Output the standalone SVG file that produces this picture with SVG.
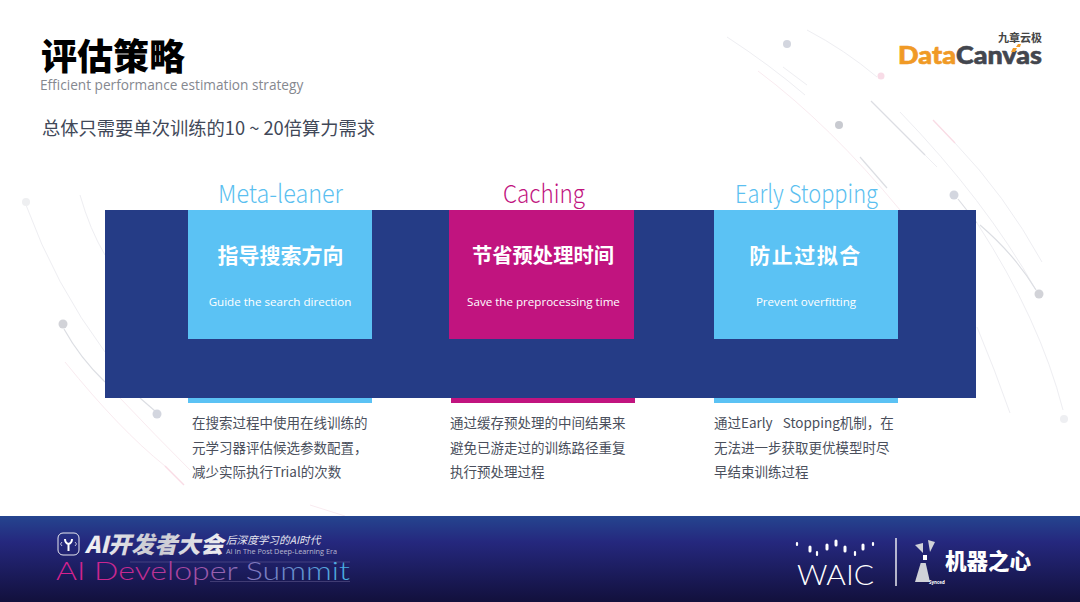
<svg xmlns="http://www.w3.org/2000/svg" width="1080" height="602" viewBox="0 0 1080 602">
<style>
.s{font-family:"Open Sans","Noto Sans","Noto Sans CJK SC",sans-serif}
.c{font-family:"Noto Sans CJK SC","Noto Sans",sans-serif}
.h{font-size:25px;text-anchor:middle;font-family:"Noto Sans CJK SC","Noto Sans",sans-serif;font-weight:300}
.t{font-weight:700;fill:#fff;text-anchor:middle;font-family:"Noto Sans CJK SC",sans-serif}
.e{font-size:11.6px;fill:#fff;text-anchor:middle;font-family:"Open Sans","Noto Sans",sans-serif}
.d{font-size:13.5px;fill:#4a4f5c;white-space:pre;font-family:"Noto Sans CJK SC","Noto Sans",sans-serif}
.g{stroke:#eeeef2;fill:none;stroke-width:1}
.k{stroke:#dcdee3;fill:none;stroke-width:1.2}
.p{stroke:#f9ebf0;fill:none;stroke-width:1}
.q{stroke:#f9dce5;fill:none;stroke-width:1.400}
.n{fill:#d3d6df}
.b{fill:#5bc2f4}
.m{fill:#c1147f}
</style>
<defs>
<linearGradient id="band" x1="0" y1="0" x2="0" y2="1"><stop offset="0" stop-color="#25458f"/><stop offset=".3" stop-color="#25287e"/><stop offset="1" stop-color="#12103c"/></linearGradient>
<linearGradient id="sum" x1="0" y1="0" x2="1" y2="0"><stop offset="0" stop-color="#d8208e"/><stop offset=".3" stop-color="#c02c90"/><stop offset=".62" stop-color="#8a70b8"/><stop offset="1" stop-color="#45b4e6"/></linearGradient>
<linearGradient id="met" x1="0" y1="0" x2="1" y2="0"><stop offset="0" stop-color="#f4f4f6"/><stop offset=".5" stop-color="#c8c8d0"/><stop offset="1" stop-color="#f0f0f4"/></linearGradient>
</defs>
<rect width="1080" height="602" fill="#fff"/>
<g id="decor">
<path class="g" d="M727 37Q770 65 805 95M783 67L807 85M807 30Q845 50 877 77"/>
<path class="p" d="M758 71Q830 125 900 210"/>
<path class="k" d="M871 101Q900 130 925 155"/>
<path class="g" d="M925 155L937 167"/>
<path class="k" d="M860 157L887 188"/>
<path class="g" d="M900 112Q985 200 1036 290"/>
<path class="k" d="M980 225Q1015 255 1036 290"/>
<path class="q" d="M933 120L955 143"/>
<path class="g" d="M955 143Q1005 195 1042 262"/>
<path class="k" d="M958 199L977 223"/>
<path class="g" d="M977 223Q1040 320 1063 410M977 327Q995 370 1010 413"/>
<path class="g" d="M26 205Q55 285 105 352M80 195Q90 230 105 255"/>
<path class="k" d="M64 329Q80 358 105 382"/>
<path class="k" d="M140 398L155 411"/>
<path class="p" d="M120 398Q155 435 190 470M65 362Q120 430 165 466"/>
<path class="q" d="M165 466L184 485"/>
<path class="p" d="M310 505L345 516"/>
<circle class="n" cx="787" cy="44" r="4"/>
<circle cx="839" cy="125" r="4" fill="#c8cad0"/>
<circle cx="881" cy="76" r="3.500" fill="#f8dce7"/>
<circle class="n" cx="954" cy="195" r="4.500"/>
<circle cx="1039" cy="294" r="4.500" fill="#d2d3d8"/>
<circle cx="1064" cy="419" r="4" fill="#eeeff2"/>
<circle cx="26" cy="202" r="4" fill="#eeeff1"/>
<circle cx="63" cy="324" r="4.500" fill="#d2d3d8"/>
<circle class="n" cx="157" cy="414" r="4.500"/>
</g>
<g id="header">
<text x="41" y="70" class="c" font-size="36" font-weight="900" fill="#000">评估策略</text>
<text x="40" y="90" class="s" font-size="13.650" fill="#85888f">Efficient performance estimation strategy</text>
<text x="42" y="135" class="c" font-size="18.300" fill="#414858">总体只需要单次训练的10 ~ 20倍算力需求</text>
</g>
<g id="logo-datacanvas">
<text x="1042" y="42" class="c" font-size="11" font-weight="700" fill="#444" text-anchor="end">九章云极</text>
<text x="898" y="64" font-family="Lato,sans-serif" font-size="24" font-weight="900" fill="#f09a26" stroke="#f09a26" stroke-width=".6" textLength="58" lengthAdjust="spacingAndGlyphs">Data</text>
<text x="956" y="64" font-family="Lato,sans-serif" font-size="24" font-weight="900" fill="#43464e" stroke="#43464e" stroke-width=".6" textLength="86" lengthAdjust="spacingAndGlyphs">Canvas</text>
<path d="M1011 52l2-4h4l-2 4zM1016 47l2-3h3l-1 3z" fill="#f09a26"/>
</g>
<rect id="panel" x="105" y="210" width="871" height="188" fill="#253c86"/>
<g id="node-meta">
<text x="280.500" y="203" class="h" fill="#5bbff0" textLength="125" lengthAdjust="spacingAndGlyphs">Meta-leaner</text>
<rect class="b" x="188" y="398" width="184" height="5"/>
<rect class="b" x="188" y="210" width="184" height="129"/>
<text x="280.500" y="263" class="t" font-size="21">指导搜索方向</text>
<text x="280" y="306" class="e">Guide the search direction</text>
<text class="d"><tspan x="192" y="428">在搜索过程中使用在线训练的</tspan><tspan x="192" y="453">元学习器评估候选参数配置，</tspan><tspan x="192" y="477">减少实际执行Trial的次数</tspan></text>
</g>
<g id="node-caching">
<text x="544" y="203" class="h" fill="#c1147f" textLength="82" lengthAdjust="spacingAndGlyphs">Caching</text>
<rect class="m" x="451" y="398" width="184" height="5"/>
<rect class="m" x="449" y="210" width="185" height="129"/>
<text x="543" y="263" class="t" font-size="20.300">节省预处理时间</text>
<text x="543.500" y="306" class="e">Save the preprocessing time</text>
<text class="d"><tspan x="450" y="428">通过缓存预处理的中间结果来</tspan><tspan x="450" y="453">避免已游走过的训练路径重复</tspan><tspan x="450" y="477">执行预处理过程</tspan></text>
</g>
<g id="node-early">
<text x="806.500" y="203" class="h" fill="#5bbff0" textLength="143" lengthAdjust="spacingAndGlyphs">Early Stopping</text>
<rect class="b" x="714" y="398" width="184" height="5"/>
<rect class="b" x="714" y="210" width="184" height="129"/>
<text x="805.500" y="263" class="t" font-size="21" letter-spacing="1.500">防止过拟合</text>
<text x="806" y="306" class="e">Prevent overfitting</text>
<text class="d"><tspan x="714" y="428" word-spacing="2">通过Early  Stopping机制，在</tspan><tspan x="714" y="453">无法进一步获取更优模型时尽</tspan><tspan x="714" y="477">早结束训练过程</tspan></text>
</g>
<rect id="footer" y="516" width="1080" height="86" fill="url(#band)"/>
<g id="logo-summit">
<rect x="58" y="533" width="21" height="22" rx="5" fill="none" stroke="#e8e8f0"/>
<path d="M65 539q0 4 3.500 5v7M72 539q0 4-3.500 5" fill="none" stroke="#fff" stroke-width="2"/>
<path d="M62 542l-1.500 2 1.500 2M75 542l1.500 2-1.500 2" fill="none" stroke="#e8e8f0" stroke-width=".8"/>
<text x="85" y="553" class="c" font-size="23" font-weight="900" font-style="italic" fill="url(#met)">AI开发者大会</text>
<text x="226" y="544" class="c" font-size="10.600" font-style="italic" fill="#e4e4ee">后深度学习的AI时代</text>
<text x="226" y="554" class="s" font-size="7.200" fill="#b8b8d0" textLength="111" lengthAdjust="spacingAndGlyphs">AI In The Post Deep-Learning Era</text>
<path d="M130 562H350M210 581.500H350" stroke="#8a80b0" stroke-width=".5" opacity=".7"/>
<text x="56" y="580" font-family="Lato,'DejaVu Sans',sans-serif" font-size="25" font-weight="300" fill="url(#sum)" textLength="294" lengthAdjust="spacingAndGlyphs">AI Developer Summit</text>
</g>
<g id="logo-waic">
<g stroke="#fff" stroke-linecap="round" fill="none">
<path stroke-width="2.200" d="M797 543v2M817 552v3M855 552v3M873 543v2"/>
<path stroke-width="3" d="M810 547v4M827 545v4M836 541v4M845 547v4M863 545v4"/>
</g>
<text x="797" y="585" font-family="Lato,'Liberation Sans',sans-serif" font-size="28" font-weight="300" fill="#fff" textLength="77" lengthAdjust="spacingAndGlyphs">WAIC</text>
<path d="M896 538v48" stroke="#e8e8f0" stroke-width="1.500"/>
</g>
<g id="logo-synced">
<path d="M915 545l8-2v10zM928 540l7 2-5 10z" fill="#d0d2d8"/>
<rect x="923" y="555" width="4" height="5" fill="#fff"/>
<path d="M920.700 563h5l4.300 19h-15z" fill="#d0d2d8"/>
<text x="945" y="569" class="c" font-size="21.500" font-weight="900" fill="#fff">机器之心</text>
<text x="929" y="584" class="s" font-size="4.500" font-weight="700" fill="#fff">Synced</text>
</g>
</svg>
